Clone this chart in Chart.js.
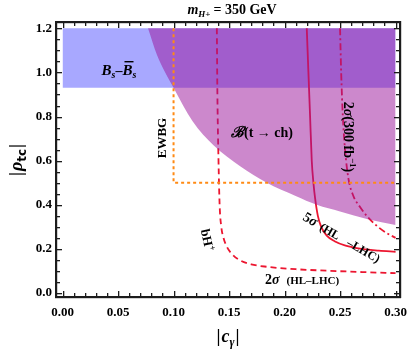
<!DOCTYPE html>
<html><head><meta charset="utf-8">
<script src="https://cdn.jsdelivr.net/npm/chart.js@4/dist/chart.umd.min.js"></script>
<style>html,body{margin:0;padding:0;background:#fff}#w{width:411px;height:354px}</style>
</head><body><div id="w"><canvas id="c" width="411" height="354"></canvas></div>
<script>
// ---- data ----
const xTickValues = [0, 0.05, 0.10, 0.15, 0.20, 0.25, 0.30];
const xTickLabels = ["0.00","0.05","0.10","0.15","0.20","0.25","0.30"];
const yTickValues = [0, 0.2, 0.4, 0.6, 0.8, 1.0, 1.2];
const yTickLabels = ["0.0","0.2","0.4","0.6","0.8","1.0","1.2"];

// B_s - Bbar_s excluded band
const bsX = [0.0, 0.3];
const bsY = [0.93, 0.93];
const bsTop = 1.2;
// B(t -> ch) excluded region boundary (region above)
const bchX = [0.077,0.085,0.1,0.117,0.136,0.16,0.184,0.21,0.229,0.25,0.275,0.3];
const bchY = [1.2,1.08,0.93,0.78,0.67,0.575,0.5,0.44,0.40,0.37,0.335,0.308];
// EWBG region border
const ewbgX = [0.1, 0.1, 0.3];
const ewbgY = [1.2, 0.5, 0.5];
// bH+ 2 sigma (HL-LHC)
const s2X = [0.139,0.1395,0.1405,0.1415,0.143,0.145,0.148,0.153,0.16,0.17,0.184,0.21,0.24,0.27,0.3];
const s2Y = [1.2,0.9,0.6,0.4,0.3,0.25,0.21,0.175,0.148,0.13,0.119,0.108,0.101,0.095,0.09];
// 5 sigma (HL-LHC)
const s5X = [0.22,0.2215,0.223,0.2245,0.226,0.2275,0.230,0.233,0.238,0.245,0.255,0.27,0.285,0.3];
const s5Y = [1.2,1.0,0.8,0.6,0.5,0.43,0.35,0.3,0.26,0.235,0.215,0.2,0.192,0.187];
// 2 sigma (300 fb^-1)
const s300X = [0.25,0.251,0.2525,0.2545,0.2575,0.262,0.268,0.274,0.283,0.291,0.3];
const s300Y = [1.2,1.0,0.8,0.65,0.52,0.44,0.39,0.35,0.305,0.275,0.25];

// axis extents (frame)
const X_MIN = -0.0059, X_MAX = 0.304, Y_MIN = -0.018, Y_MAX = 1.2286;

const pts = (xs, ys) => xs.map((x, i) => ({x, y: ys[i]}));
const SERIF = '"Liberation Serif", "DejaVu Serif", serif';
const FRAME = '#1c1c1c';

function drawRuns(ctx, cx, cy, angle, runs) {
  ctx.save();
  ctx.translate(cx, cy);
  ctx.rotate(angle * Math.PI / 180);
  ctx.textBaseline = 'alphabetic';
  ctx.textAlign = 'left';
  let total = 0;
  runs.forEach(r => { ctx.font = r.f; r.w = ctx.measureText(r.t).width; total += r.w + (r.gap || 0); });
  let x = -total / 2;
  runs.forEach(r => {
    ctx.font = r.f;
    ctx.fillStyle = '#000';
    ctx.fillText(r.t, x, (r.dy || 0) + 5);
    if (r.over) ctx.fillRect(x + 2, -9, r.w - 1, 1.4);
    x += r.w + (r.gap || 0);
  });
  ctx.restore();
}

function drawFrame(chart) {
  const ctx = chart.ctx, a = chart.chartArea;
  const xs = chart.scales.x, ys = chart.scales.y;
  ctx.save();
  ctx.fillStyle = FRAME;
  const L = Math.round(a.left), R = Math.round(a.right), T = Math.round(a.top), Bt = Math.round(a.bottom);
  for (let i = 0; i <= 30; i++) {
    const px = Math.round(xs.getPixelForValue(i / 100));
    const len = (i % 5 === 0) ? 6 : 4;
    ctx.fillRect(px, Bt - len, 1.3, len);
    ctx.fillRect(px, T, 1.3, len);
  }
  for (let i = 0; i <= 24; i++) {
    const py = Math.round(ys.getPixelForValue(i * 0.05));
    const len = (i % 4 === 0) ? 6 : 4;
    ctx.fillRect(L, py, len, 1.3);
    ctx.fillRect(R - len, py, len, 1.3);
  }
  ctx.fillRect(L - 1, T - 1, R - L + 2, 2.2);
  ctx.fillRect(L - 1, Bt - 1, R - L + 2, 2.2);
  ctx.fillRect(L - 1, T - 1, 2.2, Bt - T + 2);
  ctx.fillRect(R - 1, T - 1, 2.2, Bt - T + 2);
  ctx.restore();
}

function drawLabels(chart) {
  const ctx = chart.ctx;
  drawRuns(ctx, 232, 9, 0, [
    {t: 'm', f: 'italic bold 14px ' + SERIF},
    {t: 'H+', f: 'italic bold 9px ' + SERIF, dy: 3, gap: 3},
    {t: '= 350 GeV', f: 'bold 14px ' + SERIF}
  ]);
  drawRuns(ctx, 228, 337, 0, [
    {t: '|', f: 'bold 18px ' + SERIF, gap: 1},
    {t: 'c', f: 'italic bold 18px ' + SERIF},
    {t: 'γ', f: 'italic bold 12px ' + SERIF, dy: 4, gap: 1},
    {t: '|', f: 'bold 18px ' + SERIF}
  ]);
  drawRuns(ctx, 17, 160, -90, [
    {t: '|', f: 'bold 18px ' + SERIF, gap: 1},
    {t: 'ρ', f: 'italic bold 18px ' + SERIF},
    {t: 'tc', f: 'bold 12px "DejaVu Sans", sans-serif', dy: 4, gap: 1},
    {t: '|', f: 'bold 18px ' + SERIF}
  ]);
  drawRuns(ctx, 119, 70, 0, [
    {t: 'B', f: 'italic bold 15px ' + SERIF},
    {t: 's', f: 'italic bold 10px ' + SERIF, dy: 3},
    {t: '–', f: 'bold 14px ' + SERIF},
    {t: 'B', f: 'italic bold 15px ' + SERIF, over: true},
    {t: 's', f: 'italic bold 10px ' + SERIF, dy: 3}
  ]);
  drawRuns(ctx, 262, 132, 0, [
    {t: 'ℬ', f: 'italic bold 15px ' + SERIF},
    {t: '(t → ch)', f: 'bold 14px ' + SERIF}
  ]);
  drawRuns(ctx, 161, 138, -90, [{t: 'EWBG', f: 'bold 13px ' + SERIF}]);
  drawRuns(ctx, 208, 240, 78, [
    {t: 'bH', f: 'bold 13px ' + SERIF},
    {t: '+', f: 'bold 9px ' + SERIF, dy: -5}
  ]);
  drawRuns(ctx, 342, 237, 30, [
    {t: '5', f: 'bold 14px ' + SERIF},
    {t: 'σ', f: 'italic bold 14px ' + SERIF, gap: 5},
    {t: '(HL', f: 'bold 12px ' + SERIF, gap: 10},
    {t: '–LHC)', f: 'bold 12px ' + SERIF}
  ]);
  drawRuns(ctx, 302, 279, 0, [
    {t: '2', f: 'bold 14px ' + SERIF},
    {t: 'σ', f: 'italic bold 14px ' + SERIF, gap: 7},
    {t: '(HL–LHC)', f: 'bold 11px ' + SERIF}
  ]);
  drawRuns(ctx, 349, 137, 90, [
    {t: '2', f: 'bold 14px ' + SERIF},
    {t: 'σ', f: 'italic bold 14px ' + SERIF},
    {t: '(300 fb', f: 'bold 14px ' + SERIF},
    {t: '−1', f: 'bold 9px ' + SERIF, dy: -6},
    {t: ')', f: 'bold 14px ' + SERIF}
  ]);
}

const overlay = { id: 'overlay', afterDraw(chart) { drawFrame(chart); drawLabels(chart); } };

const RED = '#ec1630';
new Chart(document.getElementById('c'), {
  type: 'scatter',
  data: {
    datasets: [
      { label: 'EWBG', data: pts(ewbgX, ewbgY), showLine: true, borderColor: '#ff8a14',
        borderWidth: 2, borderDash: [3, 3], pointRadius: 0, tension: 0, fill: false },
      { label: 'B(t->ch)', data: pts(bchX, bchY), showLine: true, borderWidth: 0,
        borderColor: 'rgba(0,0,0,0)', backgroundColor: 'rgba(153,17,153,0.5)', pointRadius: 0,
        cubicInterpolationMode: 'monotone', fill: {target: {value: bsTop}} },
      { label: '5sigma', data: pts(s5X, s5Y), showLine: true, borderColor: RED, borderWidth: 1.8,
        pointRadius: 0, cubicInterpolationMode: 'monotone', fill: false },
      { label: '2sigma300', data: pts(s300X, s300Y), showLine: true, borderColor: RED, borderWidth: 1.8,
        borderDash: [7, 3, 2, 3], pointRadius: 0, cubicInterpolationMode: 'monotone', fill: false },
      { label: '2sigma', data: pts(s2X, s2Y), showLine: true, borderColor: RED, borderWidth: 1.8,
        borderDash: [6, 4], pointRadius: 0, cubicInterpolationMode: 'monotone', fill: false },
      { label: 'Bs', data: pts(bsX, bsY), showLine: true, borderWidth: 0, borderColor: 'rgba(0,0,0,0)',
        backgroundColor: 'rgba(110,110,255,0.6)', pointRadius: 0, tension: 0, fill: {target: {value: bsTop}} }
    ]
  },
  options: {
    responsive: false,
    animation: false,
    devicePixelRatio: 1,
    layout: { padding: { top: 22, right: 11, left: 0, bottom: 0 } },
    plugins: { legend: { display: false }, tooltip: { enabled: false }, title: { display: false } },
    scales: {
      x: {
        type: 'linear', position: 'bottom', min: X_MIN, max: X_MAX,
        grid: { display: false, drawTicks: false },
        border: { display: true, color: FRAME, width: 2 },
        afterBuildTicks: s => { s.ticks = xTickValues.map(v => ({value: v})); },
        afterFit: s => { s.height = 57; s.paddingLeft = 0; s.paddingRight = 0; },
        ticks: { autoSkip: false, maxRotation: 0, padding: 8, color: '#000',
          font: { family: SERIF, weight: 'bold', size: 13 },
          callback: (v, i) => xTickLabels[i] }
      },
      y: {
        type: 'linear', position: 'left', min: Y_MIN, max: Y_MAX,
        grid: { display: false, drawTicks: false },
        border: { display: true, color: FRAME, width: 2 },
        afterBuildTicks: s => { s.ticks = yTickValues.map(v => ({value: v})); },
        afterFit: s => { s.width = 56; s.paddingTop = 0; s.paddingBottom = 0; },
        ticks: { autoSkip: false, padding: 4, color: '#000',
          font: { family: SERIF, weight: 'bold', size: 13 },
          callback: (v, i) => yTickLabels[i] }
      }
    }
  },
  plugins: [overlay]
});
</script>
</body></html>
